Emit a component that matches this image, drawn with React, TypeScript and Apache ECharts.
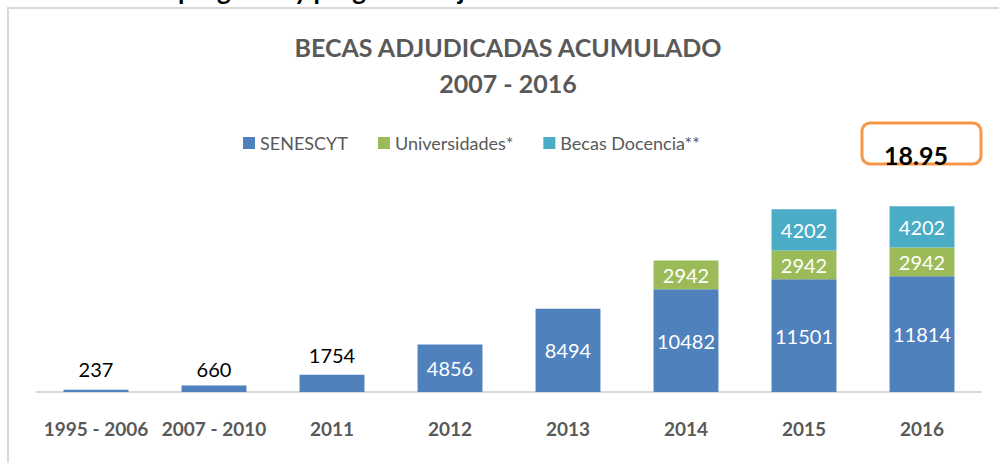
import React, { useEffect, useRef } from "react";
import * as echarts from "echarts";

const categories = ["1995 - 2006", "2007 - 2010", "2011", "2012", "2013", "2014", "2015", "2016"];
const senescyt = [237, 660, 1754, 4856, 8494, 10482, 11501, 11814];
const universidades: (number | string)[] = ["-", "-", "-", "-", "-", 2942, 2942, 2942];
const docencia: (number | string)[] = ["-", "-", "-", "-", "-", "-", 4202, 4202];
const seriesNames = ["SENESCYT", "Universidades*", "Becas Docencia**"];
const titleLines = ["BECAS ADJUDICADAS ACUMULADO", "2007 - 2016"];
const totalLabel = "18.95";
const headerText = "programa y programa bajo";

const FONT = "Lato, 'Open Sans', sans-serif";
const GRAY = "#595959";

export default function App() {
  const ref = useRef<HTMLDivElement>(null);
  useEffect(() => {
    if (!ref.current) return;
    const chart = echarts.init(ref.current, undefined, { renderer: "svg" });
    const outsideDist = [11, 7, 10];
    const senData = senescyt.map((v, i) =>
      i < 3
        ? { value: v, label: { show: true, position: "top", distance: outsideDist[i], color: "#000000" } }
        : v
    );
    chart.setOption({
      animation: false,
      textStyle: { fontFamily: FONT },
      grid: { left: 37, right: 18, top: 196, bottom: 71, containLabel: false },
      legend: {
        left: 238,
        top: 129,
        itemWidth: 12,
        itemHeight: 12,
        itemGap: 30,
        icon: "rect",
        textStyle: { color: GRAY, fontSize: 18, fontFamily: FONT },
        data: seriesNames,
      },
      xAxis: {
        type: "category",
        data: categories,
        axisLine: { lineStyle: { color: "#d9d9d9", width: 2 } },
        axisTick: { show: false },
        axisLabel: { color: GRAY, fontWeight: "bold", fontSize: 19, margin: 27, interval: 0, fontFamily: FONT },
      },
      yAxis: {
        type: "value",
        min: 0,
        max: 20000,
        show: false,
        splitLine: { show: false },
      },
      series: [
        {
          name: seriesNames[0],
          type: "bar",
          stack: "total",
          barWidth: "55%",
          data: senData,
          itemStyle: { color: "#4F81BD" },
          label: { show: true, position: "inside", color: "#ffffff", fontSize: 20, fontFamily: FONT },
        },
        {
          name: seriesNames[1],
          type: "bar",
          stack: "total",
          data: universidades,
          itemStyle: { color: "#9BBB59" },
          label: { show: true, position: "inside", color: "#ffffff", fontSize: 20, fontFamily: FONT },
        },
        {
          name: seriesNames[2],
          type: "bar",
          stack: "total",
          data: docencia,
          itemStyle: { color: "#4BACC6" },
          label: { show: true, position: "inside", color: "#ffffff", fontSize: 20, fontFamily: FONT },
        },
      ],
      graphic: [
        {
          type: "rect",
          shape: { x: 8, y: 8, width: 1100, height: 500 },
          style: { fill: "none", stroke: "#d9d9d9", lineWidth: 2 },
          silent: true,
        },
        {
          type: "text",
          x: 178,
          y: 3,
          style: {
            text: headerText,
            font: `bold 26px ${FONT}`,
            fill: "#000000",
            textVerticalAlign: "bottom",
          },
        },
        {
          type: "text",
          x: 508,
          y: 47,
          style: {
            text: titleLines[0],
            font: `bold 25px ${FONT}`,
            fill: GRAY,
            textAlign: "center",
            textVerticalAlign: "middle",
          },
        },
        {
          type: "text",
          x: 508,
          y: 83,
          style: {
            text: titleLines[1],
            font: `bold 25px ${FONT}`,
            fill: GRAY,
            textAlign: "center",
            textVerticalAlign: "middle",
          },
        },
        {
          type: "rect",
          shape: { x: 862, y: 123, width: 119, height: 41, r: 8 },
          style: { fill: "#ffffff", stroke: "#F79646", lineWidth: 3 },
        },
        {
          type: "text",
          x: 916,
          y: 155,
          style: {
            text: totalLabel,
            font: `bold 25px ${FONT}`,
            fill: "#000000",
            textAlign: "center",
            textVerticalAlign: "middle",
          },
        },
      ],
    });
    return () => chart.dispose();
  }, []);
  return (
    <div
      ref={ref}
      style={{ position: "fixed", left: 0, top: 0, width: 999, height: 463, background: "#ffffff" }}
    />
  );
}
